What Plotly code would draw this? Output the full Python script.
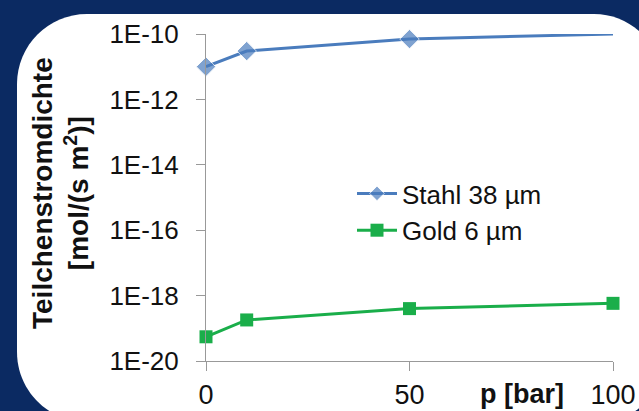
import plotly.graph_objects as go

# ---- data ----
pressure_bar = [0, 10, 50, 100]
stahl_38um = [1.0e-11, 3.0e-11, 7.0e-11, 1.0e-10]
gold_6um = [5.5e-20, 1.8e-19, 4.0e-19, 5.8e-19]
series_names = ["Stahl 38 µm", "Gold 6 µm"]
y_tickvals = [1e-10, 1e-12, 1e-14, 1e-16, 1e-18, 1e-20]
y_ticktext = ["1E-10", "1E-12", "1E-14", "1E-16", "1E-18", "1E-20"]
x_tickvals = [0, 50, 100]

W, H = 639, 411
ML, MR, MT, MB = 206, 26, 34, 50
PW, PH = W - ML - MR, H - MT - MB


def X(px):
    return (px - ML) / PW


def Y(py):
    return (H - MB - py) / PH


def rounded_path(L, T, R, B, rtl, rtr, rbr, rbl):
    k = 0.5523
    pts = []
    pts.append(f"M {X(L + rtl)},{Y(T)}")
    pts.append(f"L {X(R - rtr)},{Y(T)}")
    pts.append(f"C {X(R - rtr + k * rtr)},{Y(T)} {X(R)},{Y(T + rtr - k * rtr)} {X(R)},{Y(T + rtr)}")
    pts.append(f"L {X(R)},{Y(B - rbr)}")
    pts.append(f"C {X(R)},{Y(B - rbr + k * rbr)} {X(R - rbr + k * rbr)},{Y(B)} {X(R - rbr)},{Y(B)}")
    pts.append(f"L {X(L + rbl)},{Y(B)}")
    pts.append(f"C {X(L + rbl - k * rbl)},{Y(B)} {X(L)},{Y(B - rbl + k * rbl)} {X(L)},{Y(B - rbl)}")
    pts.append(f"L {X(L)},{Y(T + rtl)}")
    pts.append(f"C {X(L)},{Y(T + rtl - k * rtl)} {X(L + rtl - k * rtl)},{Y(T)} {X(L + rtl)},{Y(T)}")
    pts.append("Z")
    return " ".join(pts)


FONT = "Liberation Sans, Arial, sans-serif"

fig = go.Figure()
fig.add_trace(go.Scatter(
    x=pressure_bar, y=stahl_38um, name=series_names[0], mode="lines+markers",
    line=dict(color="#4a7cbd", width=3),
    marker=dict(symbol="diamond", size=[15, 15, 15, 0], color="#4a7cbd"),
    cliponaxis=False,
))
fig.add_trace(go.Scatter(
    x=pressure_bar, y=gold_6um, name=series_names[1], mode="lines+markers",
    line=dict(color="#1aae4a", width=3),
    marker=dict(symbol="square", size=13, color="#1aae4a"),
    cliponaxis=False,
))

fig.update_layout(
    width=W, height=H,
    margin=dict(l=ML, r=MR, t=MT, b=MB, autoexpand=False),
    paper_bgcolor="#0b2a62",
    plot_bgcolor="rgba(0,0,0,0)",
    font=dict(family=FONT, color="#111111", size=24),
    showlegend=True,
    legend=dict(x=X(352), y=Y(170), xanchor="left", yanchor="top",
                bgcolor="rgba(0,0,0,0)", font=dict(size=26, color="#111111"),
                itemwidth=40, tracegroupgap=0),
    shapes=[dict(type="path", xref="paper", yref="paper",
                 path=rounded_path(17, 14, 662, 422, 70, 68, 62, 70),
                 fillcolor="white", line=dict(width=0), layer="below")],
    annotations=[
        dict(text="<b>Teilchenstromdichte</b><br><b>[mol/(s m<sup>2</sup>)]</b>",
             x=X(60), y=Y(193), xref="paper", yref="paper", textangle=-90,
             showarrow=False, xanchor="center", yanchor="middle",
             font=dict(size=28, color="#111111", family=FONT)),
        dict(text="<b>p [bar]</b>", x=X(522), y=Y(394), xref="paper", yref="paper",
             showarrow=False, xanchor="center", yanchor="middle",
             font=dict(size=27, color="#111111", family=FONT)),
    ],
)

fig.update_xaxes(
    range=[0, 100], tickvals=x_tickvals, ticks="outside", ticklen=9,
    tickcolor="#999999", showline=True, linecolor="#999999", linewidth=1,
    showgrid=False, zeroline=False, tickfont=dict(size=27, color="#111111"),
    ticklabelstandoff=1,
)
fig.update_yaxes(
    type="log", range=[-20, -10], tickvals=y_tickvals, ticktext=y_ticktext,
    ticks="outside", ticklen=9, tickcolor="#999999", showline=True,
    linecolor="#999999", linewidth=1, showgrid=False, zeroline=False,
    tickfont=dict(size=26, color="#111111"), ticklabelstandoff=12,
)

fig.write_html(
    "out.html",
    config={"displayModeBar": False},
    post_script="document.body.style.margin='0px';document.body.style.overflow='hidden';document.body.style.background='#0b2a62';",
)
